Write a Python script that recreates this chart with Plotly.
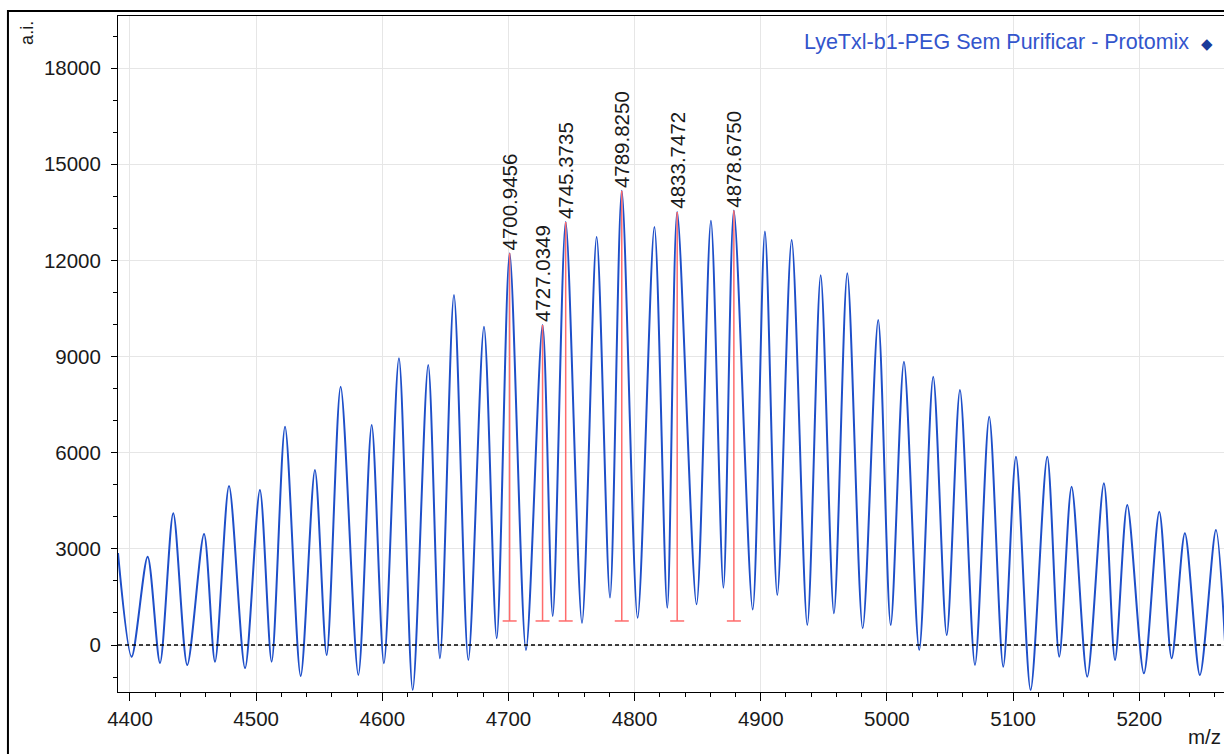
import plotly.graph_objects as go

# ---- data ----
MZ = [4390.5, 4401.3, 4414.0, 4423.8, 4434.3, 4445.4, 4458.7, 4467.4, 4478.5, 4491.2,
      4503.0, 4512.3, 4522.9, 4535.3, 4546.6, 4555.9, 4567.0, 4581.0, 4591.6, 4601.3,
      4613.2, 4624.1, 4636.4, 4645.7, 4656.8, 4668.2, 4680.6, 4690.7, 4700.9456, 4713.9,
      4727.0349, 4735.1, 4745.3735, 4758.3, 4769.9, 4780.5, 4789.8250, 4802.4, 4815.7, 4825.9,
      4833.7472, 4849.1, 4860.5, 4870.4, 4878.6750, 4893.6, 4903.3, 4913.1, 4924.5, 4936.9,
      4947.5, 4958.0, 4968.6, 4980.8, 4993.1, 5003.0, 5013.5, 5025.6, 5036.7, 5047.4,
      5057.9, 5069.8, 5081.1, 5092.2, 5102.3, 5113.9, 5127.1, 5136.6, 5146.4, 5158.8,
      5172.0, 5180.8, 5190.5, 5203.7, 5215.9, 5225.7, 5236.2, 5248.1, 5260.8, 5268.0]
INTENSITY = [2870, -365, 2755, -560, 4108, -625, 3463, -520, 4960, -720,
             4836, -520, 6811, -967, 5460, -312, 8060, -936, 6864, -572,
             8944, -1404, 8736, -416, 10920, -468, 9931, 208, 12220, -156,
             9984, 905, 13200, 690, 12730, 1480, 14170, 850, 13040, 1160,
             13510, 1270, 13240, 1790, 13560, 1110, 12900, 1560, 12640, 624,
             11540, 988, 11600, 520, 10140, 624, 8840, -156, 8370, 312,
             7956, -624, 7124, -676, 5876, -1404, 5876, -364, 4940, -988,
             5044, -468, 4368, -884, 4160, -416, 3484, -936, 3588, 100]

LABEL_MZ = [4700.9456, 4727.0349, 4745.3735, 4789.8250, 4833.7472, 4878.6750]
LABEL_INT = [12220, 9984, 13200, 14170, 13510, 13560]
LABEL_BASE = 750

X_TICKS = [4400, 4500, 4600, 4700, 4800, 4900, 5000, 5100, 5200]
Y_TICKS = [0, 3000, 6000, 9000, 12000, 15000, 18000]
SERIES_NAME = "LyeTxl-b1-PEG Sem Purificar - Protomix"

FONT = "Liberation Sans, Arial, sans-serif"

fig = go.Figure()

fig.add_trace(go.Scatter(
    x=MZ, y=INTENSITY, mode="lines", name=SERIES_NAME,
    line=dict(color="#1e4fc9", width=2, shape="spline", smoothing=0.8),
    showlegend=False, hoverinfo="skip"))

# red peak markers (vertical lines with cap at the base)
lx, ly = [], []
for m, h in zip(LABEL_MZ, LABEL_INT):
    lx += [m, m, None]
    ly += [LABEL_BASE, h, None]
fig.add_trace(go.Scatter(x=lx, y=ly, mode="lines",
                         line=dict(color="#ff6b6b", width=1.5),
                         showlegend=False, hoverinfo="skip"))
fig.add_trace(go.Scatter(x=LABEL_MZ, y=[LABEL_BASE] * len(LABEL_MZ), mode="markers",
                         marker=dict(symbol="line-ew", size=10,
                                     line=dict(color="#ff6b6b", width=1.5)),
                         showlegend=False, hoverinfo="skip"))

for m, h in zip(LABEL_MZ, LABEL_INT):
    fig.add_annotation(x=m, y=h, text=f"{m:.4f}", textangle=-90, showarrow=False,
                       xanchor="center", yanchor="bottom", yshift=1,
                       font=dict(family=FONT, size=20.5, color="#1a1a1a"))

fig.add_hline(y=0, line=dict(color="black", width=1.3, dash="4px,3px"))

axis_common = dict(
    showline=True, linecolor="black", linewidth=1,
    ticks="outside", tickcolor="black",
    showgrid=True, gridcolor="#e6e6e6", gridwidth=1,
    zeroline=False,
    tickfont=dict(family=FONT, size=20.5, color="#1a1a1a"),
)

fig.update_xaxes(range=[4390.5, 5267.2], tickvals=X_TICKS,
                 ticktext=[str(v) for v in X_TICKS], ticklen=8,
                 mirror=True,
                 minor=dict(dtick=20, tick0=4400, ticks="outside", ticklen=4,
                            tickcolor="black", showgrid=False),
                 **axis_common)
fig.update_yaxes(range=[-1466, 19625], tickvals=Y_TICKS,
                 ticktext=[str(v) for v in Y_TICKS], ticklen=6,
                 ticklabelstandoff=6,
                 minor=dict(dtick=1000, tick0=0, ticks="outside", ticklen=4,
                            tickcolor="black", showgrid=False),
                 **axis_common)

# outer frame
fig.add_shape(type="rect", xref="paper", yref="paper",
              x0=-0.0995, x1=1.02, y0=-0.15, y1=1.0074,
              line=dict(color="black", width=2), layer="above")

# axis titles
fig.add_annotation(xref="paper", yref="paper", x=-0.0823, y=0.975, text="a.i.",
                   textangle=-90, showarrow=False, xanchor="center", yanchor="middle",
                   font=dict(family=FONT, size=18, color="#1a1a1a"))
fig.add_annotation(xref="paper", yref="paper", x=0.9655, y=-0.066, text="m/z",
                   showarrow=False, xanchor="left", yanchor="middle",
                   font=dict(family=FONT, size=20.5, color="#1a1a1a"))

# legend-like label
fig.add_annotation(xref="paper", yref="paper", x=0.992, y=0.9615,
                   text=SERIES_NAME + '  <span style="color:#1a3a99;font-size:15px">◆</span>',
                   showarrow=False, xanchor="right", yanchor="middle",
                   font=dict(family=FONT, size=21.5, color="#3355cc"))

fig.update_layout(width=1224, height=754,
                  margin=dict(l=118, r=0, t=16, b=62),
                  paper_bgcolor="white", plot_bgcolor="white",
                  showlegend=False)

fig.write_html("out.html")
